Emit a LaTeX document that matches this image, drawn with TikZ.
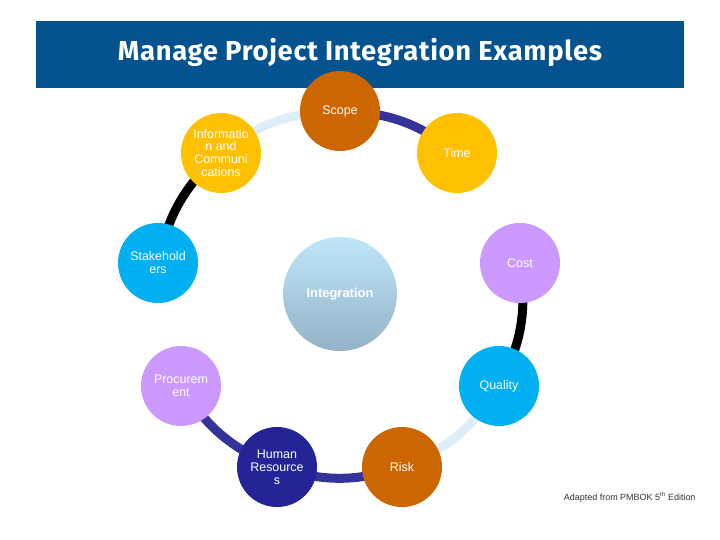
\documentclass[tikz,border=0pt]{standalone}
\usepackage{fontspec}
\setmainfont{Liberation Sans}
\newfontfamily\titlefont[LetterSpace=2.5]{Fira Sans}
\usetikzlibrary{backgrounds}
\definecolor{barblue}{RGB}{4,83,143}
\definecolor{rust}{RGB}{204,102,0}
\definecolor{gold}{RGB}{255,192,0}
\definecolor{sky}{RGB}{0,176,240}
\definecolor{lilac}{RGB}{204,153,255}
\definecolor{navy}{RGB}{36,36,150}
\definecolor{indigo}{RGB}{51,51,153}
\definecolor{pale}{RGB}{221,238,250}
\definecolor{glowtop}{RGB}{192,230,250}
\definecolor{glowbot}{RGB}{147,178,198}
\newlength{\ballsize}
\setlength{\ballsize}{80bp}
\tikzset{ball/.style = {shape=circle,minimum size=\ballsize,inner sep=0pt,text=white,align=center,font=\fontsize{12.5}{13}\selectfont}}
\tikzset{link/.style = {line width=9bp,bend left=18}}

\begin{document}
\begin{tikzpicture}[x=1bp,y=-1bp]
                \useasboundingbox (0,0) rectangle (720,540);
                \node[fill=barblue,minimum width=648bp,minimum height=67bp,inner sep=0pt] (bar) at (360,54.5) {};
                \node[text=white,font=\titlefont\bfseries\fontsize{27.5}{32}\selectfont] (title) at (360,52) {Manage Project Integration Examples};
                \node[ball,fill=rust] (scope) at (340,111) {Scope};
                \node[ball,fill=gold] (time) at (457,153) {Time};
                \node[ball,fill=lilac] (cost) at (520,263) {Cost};
                \node[ball,fill=sky] (quality) at (499,386) {Quality};
                \node[ball,fill=rust] (risk) at (402,467) {Risk};
                \node[ball,fill=navy] (hr) at (277,467) {Human\\Resource\\s};
                \node[ball,fill=lilac] (proc) at (181,386) {Procurem\\ent};
                \node[ball,fill=sky] (stake) at (158,263) {Stakehold\\ers};
                \node[ball,fill=gold] (info) at (221,153) {Informatio\\n and\\Communi\\cations};
                \node[ball,minimum size=114bp,top color=glowtop,bottom color=glowbot,font=\bfseries\fontsize{13}{15}\selectfont] (integ) at (340,294) {Integration};
                \begin{scope}[on background layer]
                \draw[link,indigo] (scope.center) to (time.center);
                \draw[link,pale] (info.center) to (scope.center);
                \draw[link,black] (stake.center) to (info.center);
                \draw[link,black] (cost.center) to (quality.center);
                \draw[link,pale] (quality.center) to (risk.center);
                \draw[link,indigo] (risk.center) to (hr.center);
                \draw[link,indigo] (hr.center) to (proc.center);
                \end{scope}
                \node[anchor=east,text=black!80,font=\fontsize{9}{10}\selectfont] (note) at (699,497) {Adapted from PMBOK 5\textsuperscript{th} Edition};
            \end{tikzpicture}
\end{document}
